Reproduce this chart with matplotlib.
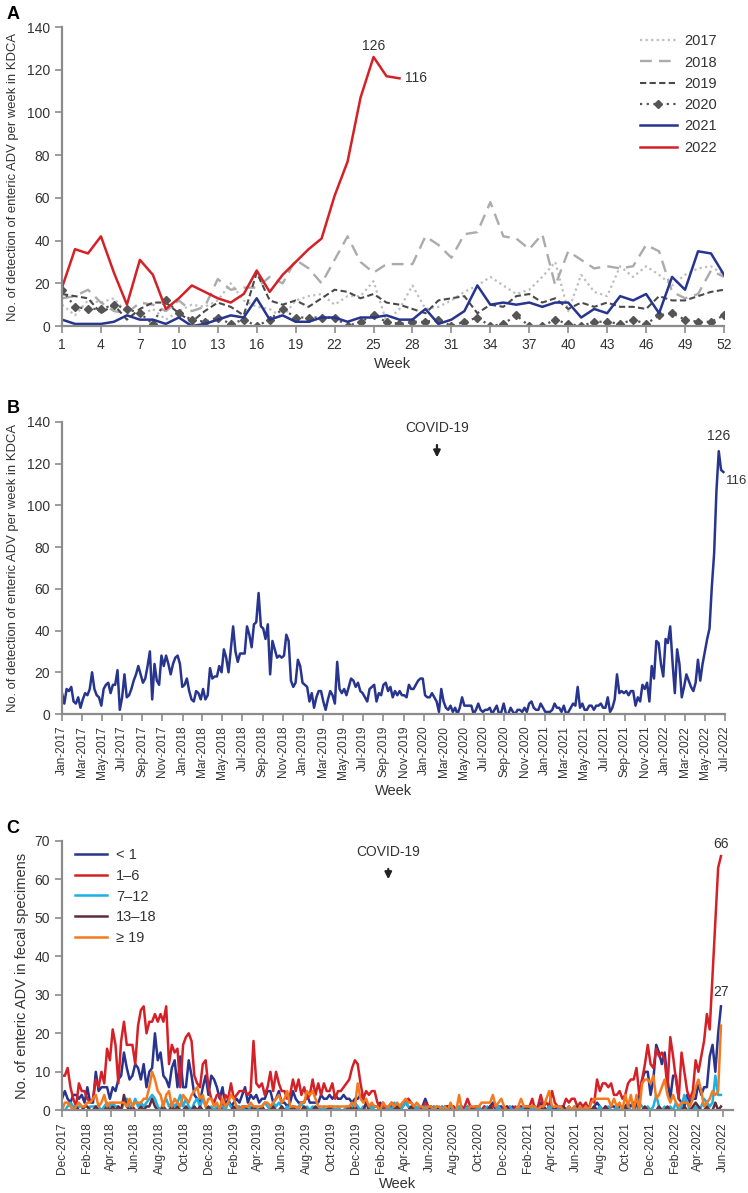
import matplotlib
matplotlib.use("Agg")
import matplotlib.pyplot as plt
import matplotlib.dates as mdates
import pandas as pd

plt.rcParams["font.family"] = ["Liberation Sans", "DejaVu Sans"]

# --- A: weekly detections per year (week 1..52) ---
weeks = list(range(1, 53))
y2017 = [10, 5, 12, 11, 13, 6, 5, 8, 3, 7, 10, 9, 12, 20, 12, 9, 8, 4, 12, 14,
         15, 10, 14, 14, 21, 2, 8, 19, 8, 9, 12, 16, 19, 23, 19, 15, 17, 23, 30, 7,
         24, 16, 14, 28, 23, 28, 24, 19, 24, 27, 28, 24]
y2018 = [13, 14, 17, 11, 7, 6, 11, 10, 7, 12, 7, 9, 22, 17, 18, 18, 23, 20, 31, 27,
         20, 31, 42, 30, 25, 29, 29, 29, 42, 38, 32, 43, 44, 58, 42, 41, 36, 43, 19, 35,
         31, 27, 28, 27, 28, 38, 35, 16, 13, 15, 26, 23]
y2019 = [15, 14, 13, 6, 10, 3, 8, 11, 11, 6, 2, 7, 11, 9, 5, 25, 12, 10, 12, 9,
         13, 17, 16, 13, 15, 11, 10, 8, 6, 12, 13, 14, 6, 10, 9, 14, 15, 11, 13, 8,
         11, 9, 11, 9, 9, 8, 14, 12, 12, 14, 16, 17]
y2020 = [17, 9, 8, 8, 10, 8, 6, 1, 12, 6, 3, 2, 4, 1, 3, 0, 3, 8, 4, 4,
         4, 4, 0, 2, 5, 2, 1, 2, 2, 3, 0, 2, 4, 0, 1, 5, 0, 0, 3, 1,
         0, 2, 2, 1, 3, 1, 5, 6, 3, 2, 2, 5]
y2021 = [3, 1, 1, 1, 2, 5, 3, 3, 1, 4, 0, 1, 3, 5, 4, 13, 3, 5, 2, 2,
         4, 4, 2, 4, 4, 5, 3, 3, 8, 1, 3, 7, 19, 10, 11, 10, 11, 9, 11, 11,
         4, 8, 6, 14, 12, 15, 6, 23, 17, 35, 34, 24]
y2022 = [18, 36, 34, 42, 25, 10, 31, 24, 8, 13, 19, 16, 13, 11, 15, 26, 16, 24, 30, 36,
         41, 61, 77, 107, 126, 117, 116]

# --- C: fecal specimens by age group, weekly from Dec-2017 ---
age_lt1 = [3, 5, 3, 2, 4, 4, 3, 4, 2, 6, 2, 2, 10, 5, 6, 6, 6, 3, 6, 5,
           8, 9, 15, 11, 8, 9, 12, 11, 8, 12, 6, 10, 11, 20, 13, 15, 9, 8, 6, 11,
           13, 6, 14, 6, 6, 13, 9, 4, 3, 2, 6, 9, 4, 9, 8, 6, 3, 6, 1, 3,
           1, 2, 3, 2, 4, 6, 2, 4, 3, 4, 2, 3, 3, 5, 5, 2, 3, 5, 2, 2,
           1, 2, 5, 3, 2, 2, 2, 4, 2, 2, 2, 2, 4, 3, 3, 4, 3, 4, 3, 3,
           4, 3, 3, 2, 3, 3, 4, 3, 2, 1, 1, 1, 1, 2, 0, 1, 0, 1, 0, 1,
           0, 1, 2, 1, 0, 1, 0, 0, 1, 3, 1, 1, 0, 1, 0, 0, 1, 1, 0, 1,
           0, 0, 1, 0, 1, 0, 0, 1, 1, 0, 1, 0, 1, 2, 0, 1, 1, 0, 1, 0,
           1, 0, 0, 1, 0, 1, 0, 1, 1, 0, 2, 1, 0, 1, 1, 0, 1, 0, 1, 0,
           1, 0, 1, 0, 0, 1, 0, 1, 0, 1, 2, 1, 0, 1, 0, 1, 1, 0, 1, 1,
           1, 2, 1, 2, 1, 4, 8, 10, 10, 4, 8, 17, 15, 12, 15, 8, 3, 9, 9, 3,
           2, 1, 4, 2, 3, 3, 7, 4, 6, 6, 14, 17, 10, 20, 27]
age_1_6 = [9, 9, 11, 6, 3, 1, 7, 5, 5, 3, 2, 3, 8, 6, 10, 7, 16, 13, 21, 17,
           7, 18, 23, 17, 17, 17, 12, 22, 26, 27, 20, 23, 23, 25, 23, 25, 23, 27, 12, 17,
           15, 16, 6, 17, 19, 20, 18, 9, 7, 6, 12, 13, 6, 3, 2, 4, 4, 1, 4, 3,
           7, 3, 4, 5, 5, 5, 4, 5, 18, 7, 6, 7, 4, 6, 10, 5, 10, 7, 5, 5,
           3, 4, 8, 5, 8, 4, 6, 3, 4, 8, 4, 7, 4, 7, 5, 5, 7, 3, 5, 5,
           6, 7, 8, 11, 13, 12, 7, 3, 5, 4, 5, 5, 2, 1, 2, 0, 1, 2, 1, 0,
           1, 2, 2, 3, 2, 1, 0, 1, 0, 2, 1, 0, 1, 0, 0, 1, 0, 1, 0, 1,
           0, 1, 0, 1, 3, 1, 0, 1, 0, 0, 1, 0, 1, 1, 1, 0, 0, 1, 0, 1,
           0, 1, 0, 1, 0, 1, 1, 3, 0, 1, 4, 1, 2, 1, 5, 2, 1, 1, 1, 3,
           2, 3, 3, 1, 2, 1, 2, 0, 3, 2, 8, 5, 7, 7, 6, 7, 4, 4, 5, 3,
           4, 7, 8, 8, 11, 4, 8, 12, 17, 12, 11, 16, 14, 15, 13, 6, 19, 14, 8, 3,
           15, 10, 5, 3, 5, 13, 10, 14, 18, 25, 21, 35, 49, 63, 66]
age_7_12 = [0, 0, 1, 2, 1, 0, 1, 1, 0, 0, 1, 1, 1, 1, 0, 1, 2, 1, 2, 1,
            1, 0, 2, 3, 1, 1, 3, 1, 2, 1, 2, 3, 4, 3, 1, 0, 2, 3, 1, 2,
            1, 2, 4, 1, 3, 1, 0, 2, 3, 1, 3, 1, 0, 1, 0, 1, 0, 1, 0, 2,
            1, 0, 1, 1, 0, 1, 0, 1, 0, 1, 0, 1, 2, 1, 0, 2, 1, 2, 1, 0,
            1, 0, 1, 0, 1, 2, 0, 1, 0, 1, 0, 1, 0, 1, 0, 0, 1, 0, 1, 0,
            0, 1, 0, 1, 2, 1, 0, 1, 0, 0, 1, 0, 0, 1, 0, 0, 1, 0, 2, 1,
            0, 1, 2, 1, 0, 0, 1, 0, 0, 1, 0, 0, 1, 0, 0, 1, 0, 0, 1, 0,
            0, 1, 0, 0, 1, 0, 0, 0, 1, 0, 0, 1, 0, 0, 0, 1, 0, 0, 0, 1,
            0, 0, 1, 0, 1, 0, 0, 1, 0, 0, 1, 0, 0, 1, 0, 0, 0, 1, 0, 0,
            1, 0, 0, 1, 0, 0, 1, 0, 0, 1, 0, 1, 0, 0, 1, 0, 0, 1, 0, 0,
            0, 1, 0, 0, 1, 2, 1, 0, 1, 0, 1, 4, 1, 0, 1, 0, 1, 0, 2, 0,
            1, 4, 2, 0, 0, 1, 0, 1, 3, 2, 1, 2, 9, 4, 4]
age_13_18 = [0, 0, 0, 0, 0, 1, 0, 0, 1, 1, 0, 0, 1, 0, 0, 0, 1, 0, 1, 0,
             1, 0, 4, 1, 0, 1, 0, 0, 1, 0, 1, 1, 3, 1, 0, 0, 1, 0, 0, 1,
             0, 1, 0, 0, 1, 0, 0, 1, 0, 1, 0, 0, 1, 0, 0, 0, 1, 0, 0, 0,
             0, 1, 0, 0, 1, 1, 0, 0, 1, 0, 0, 1, 0, 0, 0, 1, 0, 0, 1, 0,
             0, 0, 1, 0, 0, 0, 1, 0, 0, 0, 1, 0, 0, 0, 0, 1, 0, 0, 0, 0,
             0, 0, 1, 0, 1, 0, 0, 0, 2, 0, 0, 0, 0, 1, 0, 0, 0, 0, 0, 1,
             0, 0, 0, 0, 1, 0, 0, 0, 0, 0, 0, 1, 0, 0, 0, 0, 0, 1, 0, 0,
             0, 0, 0, 0, 0, 1, 0, 0, 0, 0, 0, 0, 1, 0, 0, 0, 0, 0, 1, 0,
             0, 0, 0, 0, 0, 1, 0, 0, 0, 0, 0, 1, 0, 0, 0, 0, 0, 0, 1, 0,
             0, 0, 0, 1, 0, 0, 0, 0, 0, 1, 0, 0, 0, 1, 0, 0, 0, 0, 0, 0,
             1, 0, 0, 0, 2, 0, 0, 1, 0, 0, 0, 0, 1, 0, 0, 1, 0, 0, 0, 0,
             0, 1, 0, 0, 1, 2, 1, 0, 0, 1, 0, 0, 2, 0, 1]
age_ge19 = [0, 2, 2, 1, 0, 1, 2, 1, 1, 2, 2, 3, 4, 1, 2, 4, 1, 2, 2, 2,
            2, 2, 2, 1, 3, 1, 2, 2, 2, 3, 3, 6, 10, 8, 5, 4, 1, 4, 5, 1,
            3, 2, 1, 4, 3, 2, 4, 5, 6, 3, 4, 1, 3, 3, 1, 2, 0, 3, 1, 2,
            4, 3, 1, 0, 1, 1, 1, 2, 1, 1, 1, 1, 2, 2, 1, 2, 3, 4, 2, 3,
            5, 1, 1, 1, 0, 2, 2, 5, 4, 5, 3, 1, 1, 1, 1, 1, 1, 1, 1, 1,
            1, 1, 1, 2, 1, 7, 3, 2, 3, 1, 2, 1, 1, 0, 2, 1, 1, 2, 1, 2,
            1, 2, 3, 2, 2, 1, 2, 1, 1, 0, 1, 1, 0, 1, 1, 0, 1, 0, 2, 0,
            0, 4, 0, 0, 0, 1, 1, 1, 1, 2, 2, 2, 2, 4, 1, 2, 3, 1, 0, 0,
            0, 0, 1, 3, 1, 1, 1, 1, 1, 0, 1, 1, 3, 5, 1, 1, 1, 1, 0, 0,
            1, 0, 1, 0, 1, 0, 1, 0, 2, 3, 3, 3, 3, 3, 3, 1, 3, 1, 2, 0,
            4, 1, 4, 0, 4, 0, 7, 8, 8, 7, 9, 3, 4, 6, 8, 4, 2, 4, 2, 1,
            2, 2, 2, 1, 3, 6, 8, 5, 1, 2, 3, 5, 4, 5, 22]

NAVY, RED = "#27358f", "#d42127"
GREY_AX, TXT = "#8c8c8c", "#333333"
YLAB_KDCA = "No. of detection of enteric ADV per week in KDCA"


def style_axis(ax):
    for s in ("top", "right"):
        ax.spines[s].set_visible(False)
    for s in ("left", "bottom"):
        ax.spines[s].set_color(GREY_AX)
        ax.spines[s].set_linewidth(1.6)
    ax.tick_params(colors=GREY_AX, labelcolor=TXT, width=1.2, length=5, labelsize=10)


fig = plt.figure(figsize=(7.48, 11.93), dpi=100)

# ---------------- A ----------------
axA = fig.add_axes([0.0829, 0.7267, 0.8850, 0.2506])
styles = [
    (y2017, "2017", dict(color="#bdbdbd", ls=(0, (1, 1.5)), lw=1.6)),
    (y2018, "2018", dict(color="#ababab", ls=(0, (5, 3)), lw=1.7)),
    (y2019, "2019", dict(color="#4a4a4a", ls=(0, (3, 1.6)), lw=1.5)),
    (y2020, "2020", dict(color="#555555", ls=(0, (1, 2)), lw=1.6, marker="D", ms=4)),
    (y2021, "2021", dict(color=NAVY, lw=1.8)),
]
for ys, lab, kw in styles:
    axA.plot(weeks[:len(ys)], ys, label=lab, **kw)
axA.plot(weeks[:len(y2022)], y2022, label="2022", color=RED, lw=1.8)
axA.set_xlim(1, 52)
axA.set_ylim(0, 140)
axA.set_xticks(range(1, 53, 3))
axA.set_yticks(range(0, 141, 20))
style_axis(axA)
axA.set_xlabel("Week", fontsize=10.5, color=TXT)
axA.set_ylabel(YLAB_KDCA, fontsize=9.4, color=TXT, labelpad=6)
i_pk = y2022.index(max(y2022))
axA.annotate(str(y2022[i_pk]), (weeks[i_pk], y2022[i_pk]), xytext=(0, 3),
             textcoords="offset points", ha="center", va="bottom", fontsize=10, color=TXT)
axA.annotate(str(y2022[-1]), (weeks[len(y2022) - 1], y2022[-1]), xytext=(4, 0),
             textcoords="offset points", ha="left", va="center", fontsize=10, color=TXT)
axA.legend(loc="upper right", bbox_to_anchor=(1.01, 1.02), frameon=False, fontsize=10.5,
           handlelength=2.6, handletextpad=0.5, labelspacing=0.5, labelcolor=TXT)
fig.text(0.009, 0.995, "A", fontsize=13, fontweight="bold", va="top")

# ---------------- B ----------------
allB = y2017 + y2018 + y2019 + y2020 + y2021 + y2022
datesB = pd.date_range("2017-01-01", periods=len(allB), freq="7D")
axB = fig.add_axes([0.0829, 0.4015, 0.8864, 0.2448])
axB.plot(datesB, allB, color=NAVY, lw=1.8)
axB.set_xlim(pd.Timestamp("2017-01-01"), pd.Timestamp("2022-07-01"))
axB.set_ylim(0, 140)
axB.set_yticks(range(0, 141, 20))
axB.xaxis.set_major_locator(mdates.MonthLocator(bymonth=[1, 3, 5, 7, 9, 11]))
axB.xaxis.set_major_formatter(mdates.DateFormatter("%b-%Y"))
style_axis(axB)
axB.tick_params(axis="x", labelsize=8.6, labelrotation=90)
axB.set_xlabel("Week", fontsize=10.5, color=TXT, labelpad=4)
axB.set_ylabel(YLAB_KDCA, fontsize=9.4, color=TXT, labelpad=6)
iB = allB.index(max(allB))
axB.annotate(str(allB[iB]), (datesB[iB], allB[iB]), xytext=(0, 6),
             textcoords="offset points", ha="center", va="bottom", fontsize=10, color=TXT)
axB.annotate(str(allB[-1]), (datesB[-1], allB[-1]), xytext=(2, -2),
             textcoords="offset points", ha="left", va="top", fontsize=9.5, color=TXT)
axB.annotate("COVID-19", xy=(pd.Timestamp("2020-02-10"), 123),
             xytext=(pd.Timestamp("2020-02-10"), 137), ha="center", va="center",
             fontsize=10, color=TXT,
             arrowprops=dict(arrowstyle="-|>", color="#222222", lw=1.6, shrinkA=5, shrinkB=0,
                             mutation_scale=10))
fig.text(0.009, 0.665, "B", fontsize=13, fontweight="bold", va="top")

# ---------------- C ----------------
datesC = pd.date_range("2017-12-01", periods=len(age_1_6), freq="7D")
axC = fig.add_axes([0.0829, 0.0693, 0.8971, 0.2260])
seriesC = [
    (age_lt1, "< 1", NAVY),
    (age_1_6, "1\u20136", RED),
    (age_7_12, "7\u201312", "#1cb0e6"),
    (age_13_18, "13\u201318", "#5e2d3d"),
    (age_ge19, "\u2265 19", "#f47a1f"),
]
for ys, lab, col in seriesC:
    axC.plot(datesC, ys, label=lab, color=col, lw=1.8)
axC.set_xlim(pd.Timestamp("2017-12-01"), pd.Timestamp("2022-06-26"))
axC.set_ylim(0, 70)
axC.set_yticks(range(0, 71, 10))
axC.xaxis.set_major_locator(mdates.MonthLocator(bymonth=[2, 4, 6, 8, 10, 12]))
axC.xaxis.set_major_formatter(mdates.DateFormatter("%b-%Y"))
style_axis(axC)
axC.tick_params(axis="x", labelsize=8.6, labelrotation=90)
axC.set_xlabel("Week", fontsize=10.5, color=TXT, labelpad=2)
axC.set_ylabel("No. of enteric ADV in fecal specimens", fontsize=10.5, color=TXT)
axC.annotate(str(age_1_6[-1]), (datesC[-1], age_1_6[-1]), xytext=(0, 4),
             textcoords="offset points", ha="center", va="bottom", fontsize=10, color=TXT)
axC.annotate(str(age_lt1[-1]), (datesC[-1], age_lt1[-1]), xytext=(0, 5),
             textcoords="offset points", ha="center", va="bottom", fontsize=10, color=TXT)
axC.annotate("COVID-19", xy=(pd.Timestamp("2020-02-20"), 60),
             xytext=(pd.Timestamp("2020-02-20"), 67), ha="center", va="center",
             fontsize=10, color=TXT,
             arrowprops=dict(arrowstyle="-|>", color="#222222", lw=1.6, shrinkA=5, shrinkB=0,
                             mutation_scale=10))
axC.legend(loc="upper left", bbox_to_anchor=(0.0, 1.02), frameon=False, fontsize=10.5,
           handlelength=2.2, handletextpad=0.6, labelspacing=0.45, labelcolor=TXT)
fig.text(0.009, 0.313, "C", fontsize=13, fontweight="bold", va="top")

fig.savefig("out.png", dpi=100)
